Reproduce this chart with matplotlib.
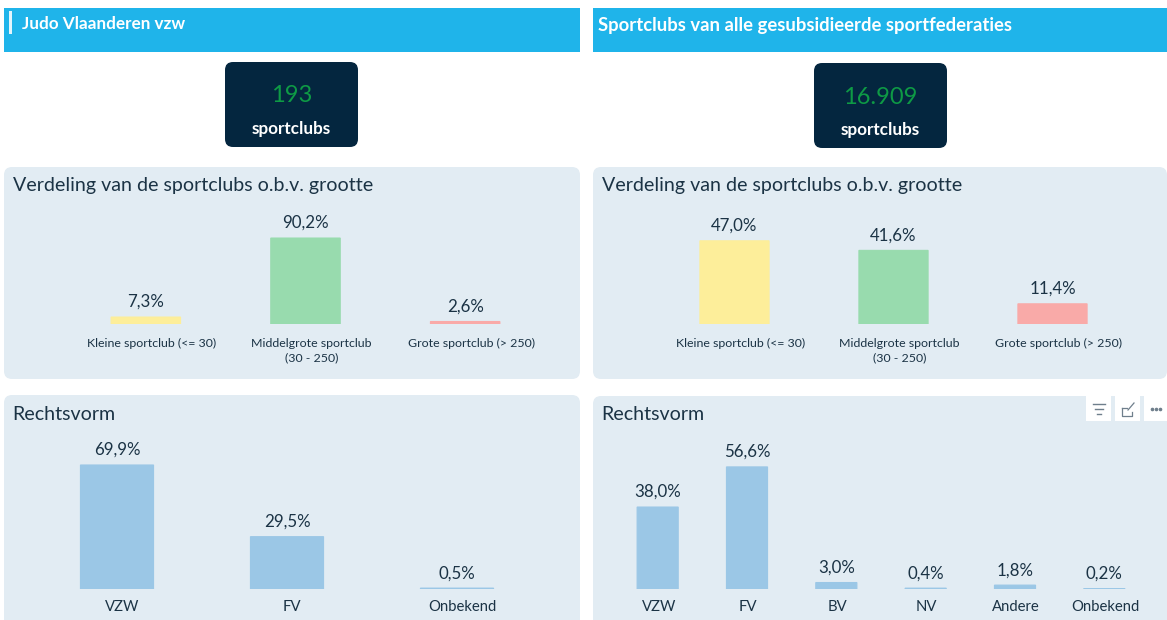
import matplotlib
matplotlib.use('Agg')
import matplotlib.pyplot as plt
from matplotlib.patches import FancyBboxPatch, Rectangle
from matplotlib.transforms import ScaledTranslation

plt.rcParams['font.family'] = ['Lato', 'DejaVu Sans']

W, H = 1167, 620

# data
size_labels = ['Kleine sportclub (<= 30)', 'Middelgrote sportclub\n(30 - 250)', 'Grote sportclub (> 250)']
size_judo = [7.3, 90.2, 2.6]
size_all = [47.0, 41.6, 11.4]
form_labels_judo = ['VZW', 'FV', 'Onbekend']
form_judo = [69.9, 29.5, 0.5]
form_labels_all = ['VZW', 'FV', 'BV', 'NV', 'Andere', 'Onbekend']
form_all = [38.0, 56.6, 3.0, 0.4, 1.8, 0.2]
count_judo = '193'
count_all = '16.909'

size_colors = ['#FDEE9A', '#98DBAE', '#F9AAA8']
form_color = '#9BC7E6'
header_color = '#1FB4EA'
panel_color = '#E2ECF3'
dark = '#04263F'
text_color = '#1B3345'

fig = plt.figure(figsize=(W / 100, H / 100), dpi=100, facecolor='white')

# background layer in pixel coordinates
bg = fig.add_axes([0, 0, 1, 1])
bg.set_xlim(0, W)
bg.set_ylim(H, 0)
bg.axis('off')


def rounded(x0, y0, x1, y1, color, r=8):
    bg.add_patch(FancyBboxPatch((x0 + r, y0 + r), x1 - x0 - 2 * r, y1 - y0 - 2 * r,
                                boxstyle='round,pad=%d,rounding_size=%d' % (r, r),
                                fc=color, ec='none'))


# headers
bg.add_patch(Rectangle((4, 8), 576, 44, fc=header_color, ec='none'))
bg.add_patch(Rectangle((593, 8), 574, 44, fc=header_color, ec='none'))
bg.add_patch(Rectangle((9, 11), 3, 23, fc='#E4F5FC', ec='none'))
bg.text(22, 24, 'Judo Vlaanderen vzw', color='white', fontsize=12.3, fontweight='bold', va='center')
bg.text(598, 26, 'Sportclubs van alle gesubsidieerde sportfederaties', color='white',
        fontsize=13.35, fontweight='bold', va='center')

# kpi cards
for x0, x1, y0, val in [(225, 358, 62, count_judo), (814, 947, 63, count_all)]:
    rounded(x0, y0, x1, y0 + 85, dark, r=8)
    cx = (x0 + x1) / 2
    bg.text(cx, y0 + 34, val, color='#0E9A45', fontsize=17, ha='center', va='center')
    bg.text(cx, y0 + 67, 'sportclubs', color='white', fontsize=12.3, fontweight='bold', ha='center', va='center')

# panels
rounded(4, 167, 580, 379, panel_color)
rounded(593, 167, 1167, 379, panel_color)
rounded(4, 395, 580, 628, panel_color)
rounded(593, 396, 1167, 628, panel_color)

bg.text(13, 186, 'Verdeling van de sportclubs o.b.v. grootte', color=text_color, fontsize=14.1, va='center')
bg.text(602, 186, 'Verdeling van de sportclubs o.b.v. grootte', color=text_color, fontsize=14.1, va='center')
bg.text(12, 414, 'Rechtsvorm', color=text_color, fontsize=14.1, va='center')
bg.text(601, 415, 'Rechtsvorm', color=text_color, fontsize=14.1, va='center')

# little visual header icons on the last chart
for x0 in [1086, 1115, 1144]:
    bg.add_patch(Rectangle((x0, 396), 25, 25, fc='white', ec='none'))
for xa, xb, y in [(1093, 1105, 404), (1095, 1103, 409), (1097, 1101, 414)]:
    bg.plot([xa, xb], [y, y], color='#6F7F8C', lw=1)
bg.plot([1122, 1122, 1132, 1132], [408, 416, 416, 412], color='#6F7F8C', lw=0.9)
bg.plot([1122, 1127], [408, 408], color='#6F7F8C', lw=0.9)
bg.plot([1128, 1134], [410, 403], color='#6F7F8C', lw=0.9)
bg.plot([1152, 1156, 1160], [409, 409, 409], ls='none', marker='o', ms=1.6, color='#6F7F8C')


def bar_chart(left, right, base, top, px_per_unit, labels, values, colors, width, lab_size, val_size, shift):
    ax = fig.add_axes([left / W, 1 - base / H, (right - left) / W, (base - top) / H])
    ax.patch.set_alpha(0)
    x = range(len(values))
    bars = ax.bar(x, values, width=width, color=colors, edgecolor=colors, linewidth=0.8)
    for b in bars:
        b.set_snap(False)
    ax.set_xlim(-0.5, len(values) - 0.5)
    ax.set_ylim(0, (base - top) / px_per_unit)
    ax.set_xticks(list(x))
    ax.set_xticklabels(labels, fontsize=lab_size, color=text_color, linespacing=1.35)
    ax.set_yticks([])
    ax.tick_params(axis='x', length=0, pad=10 if lab_size < 10 else 8)
    offset = ScaledTranslation(shift / 100, 0, fig.dpi_scale_trans)
    for lab in ax.get_xticklabels():
        lab.set_transform(lab.get_transform() + offset)
    for s in ax.spines.values():
        s.set_visible(False)
    labs = [('%.1f%%' % v).replace('.', ',') for v in values]
    ax.bar_label(bars, labels=labs, padding=5, fontsize=val_size, color=text_color)
    return ax


bar_chart(66, 545, 324, 205, 0.953, size_labels, size_judo, size_colors, 0.435, 8.9, 12.2, 6)
bar_chart(655, 1132, 324, 205, 1.77, size_labels, size_all, size_colors, 0.435, 8.9, 12.2, 6)
bar_chart(32, 542, 589, 435, 1.774, form_labels_judo, form_judo, form_color, 0.43, 10.7, 12.2, 5)
bar_chart(613, 1149, 589, 435, 2.157, form_labels_all, form_all, form_color, 0.46, 10.7, 12.2, 1)

fig.savefig('out.png', dpi=100)
